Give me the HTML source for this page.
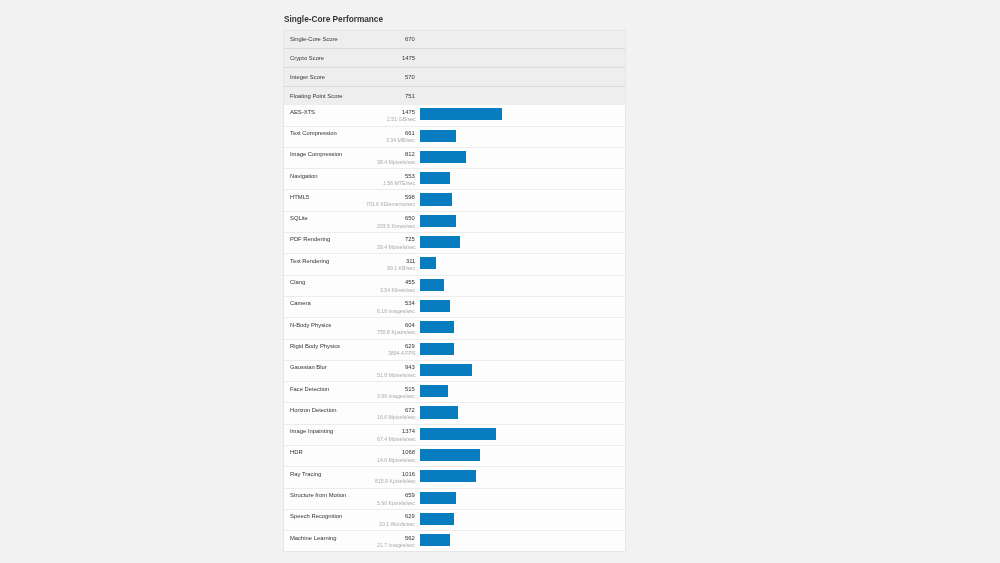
<!DOCTYPE html><html><head><meta charset="utf-8"><title>Single-Core Performance</title><style>
html,body{margin:0;padding:0;}
body{width:1000px;height:563px;background:#f2f2f2;font-family:"Liberation Sans",sans-serif;position:relative;overflow:hidden;}
div{position:absolute;}
.t{left:283.5px;top:15.5px;font-size:8.25px;font-weight:bold;color:#333;white-space:nowrap;line-height:1;will-change:transform;}
.tb{left:283px;top:30px;width:343px;height:521.8px;box-sizing:border-box;border:1px solid #e6e6e6;background:#fdfdfd;}
.sb{left:284px;width:341px;background:#eeeeee;}
.sd{left:284px;width:341px;height:1px;background:#d9d9d9;}
.wd{left:284px;width:341px;height:1px;background:#ececec;}
.l{left:290.2px;font-size:5.85px;color:#333;white-space:nowrap;line-height:1;will-change:transform;}
.v{right:584.8px;font-size:5.85px;color:#333;white-space:nowrap;line-height:1;text-align:right;will-change:transform;}
.d{right:584.8px;font-size:5.2px;color:#aaa;white-space:nowrap;line-height:1;text-align:right;will-change:transform;}
.b{left:420.2px;height:12.2px;background:#077dbf;}
</style></head><body>
<div class="t">Single-Core Performance</div>
<div class="tb"></div>
<div class="sb" style="top:31px;height:73.700px"></div>
<div class="sd" style="top:48px"></div>
<div class="sd" style="top:67px"></div>
<div class="sd" style="top:86px"></div>
<div class="l" style="top:37px">Single-Core Score</div>
<div class="v" style="top:37px">670</div>
<div class="l" style="top:56px">Crypto Score</div>
<div class="v" style="top:56px">1475</div>
<div class="l" style="top:75px">Integer Score</div>
<div class="v" style="top:75px">570</div>
<div class="l" style="top:94px">Floating Point Score</div>
<div class="v" style="top:94px">751</div>
<div class="l" style="top:109.600px">AES-XTS</div>
<div class="v" style="top:109.600px">1475</div>
<div class="d" style="top:117.100px">2.51 GB/sec</div>
<div class="b" style="top:108.200px;width:81.6px"></div>
<div class="wd" style="top:126px"></div>
<div class="l" style="top:130.900px">Text Compression</div>
<div class="v" style="top:130.900px">661</div>
<div class="d" style="top:138.400px">3.34 MB/sec</div>
<div class="b" style="top:129.500px;width:35.8px"></div>
<div class="wd" style="top:147px"></div>
<div class="l" style="top:152.200px">Image Compression</div>
<div class="v" style="top:152.200px">812</div>
<div class="d" style="top:159.700px">38.4 Mpixels/sec</div>
<div class="b" style="top:150.800px;width:45.9px"></div>
<div class="wd" style="top:168px"></div>
<div class="l" style="top:173.500px">Navigation</div>
<div class="v" style="top:173.500px">553</div>
<div class="d" style="top:181.000px">1.56 MTE/sec</div>
<div class="b" style="top:172.100px;width:29.9px"></div>
<div class="wd" style="top:189px"></div>
<div class="l" style="top:194.800px">HTML5</div>
<div class="v" style="top:194.800px">598</div>
<div class="d" style="top:202.300px">701.6 KElements/sec</div>
<div class="b" style="top:193.400px;width:31.8px"></div>
<div class="wd" style="top:211px"></div>
<div class="l" style="top:216.100px">SQLite</div>
<div class="v" style="top:216.100px">650</div>
<div class="d" style="top:223.600px">203.5 Krows/sec</div>
<div class="b" style="top:214.700px;width:35.7px"></div>
<div class="wd" style="top:232px"></div>
<div class="l" style="top:237.400px">PDF Rendering</div>
<div class="v" style="top:237.400px">725</div>
<div class="d" style="top:244.900px">39.4 Mpixels/sec</div>
<div class="b" style="top:236.000px;width:39.9px"></div>
<div class="wd" style="top:253px"></div>
<div class="l" style="top:258.700px">Text Rendering</div>
<div class="v" style="top:258.700px">311</div>
<div class="d" style="top:266.200px">99.1 KB/sec</div>
<div class="b" style="top:257.300px;width:16px"></div>
<div class="wd" style="top:275px"></div>
<div class="l" style="top:280.000px">Clang</div>
<div class="v" style="top:280.000px">455</div>
<div class="d" style="top:287.500px">3.54 Klines/sec</div>
<div class="b" style="top:278.600px;width:23.9px"></div>
<div class="wd" style="top:296px"></div>
<div class="l" style="top:301.300px">Camera</div>
<div class="v" style="top:301.300px">534</div>
<div class="d" style="top:308.800px">6.19 images/sec</div>
<div class="b" style="top:299.900px;width:29.8px"></div>
<div class="wd" style="top:317px"></div>
<div class="l" style="top:322.600px">N-Body Physics</div>
<div class="v" style="top:322.600px">604</div>
<div class="d" style="top:330.100px">755.8 Kpairs/sec</div>
<div class="b" style="top:321.200px;width:33.9px"></div>
<div class="wd" style="top:339px"></div>
<div class="l" style="top:343.900px">Rigid Body Physics</div>
<div class="v" style="top:343.900px">629</div>
<div class="d" style="top:351.400px">3894.4 FPS</div>
<div class="b" style="top:342.500px;width:33.9px"></div>
<div class="wd" style="top:360px"></div>
<div class="l" style="top:365.200px">Gaussian Blur</div>
<div class="v" style="top:365.200px">943</div>
<div class="d" style="top:372.700px">51.8 Mpixels/sec</div>
<div class="b" style="top:363.800px;width:51.7px"></div>
<div class="wd" style="top:381px"></div>
<div class="l" style="top:386.500px">Face Detection</div>
<div class="v" style="top:386.500px">515</div>
<div class="d" style="top:394.000px">3.96 images/sec</div>
<div class="b" style="top:385.100px;width:28px"></div>
<div class="wd" style="top:402px"></div>
<div class="l" style="top:407.800px">Horizon Detection</div>
<div class="v" style="top:407.800px">672</div>
<div class="d" style="top:415.300px">16.6 Mpixels/sec</div>
<div class="b" style="top:406.400px;width:37.9px"></div>
<div class="wd" style="top:424px"></div>
<div class="l" style="top:429.100px">Image Inpainting</div>
<div class="v" style="top:429.100px">1374</div>
<div class="d" style="top:436.600px">67.4 Mpixels/sec</div>
<div class="b" style="top:427.700px;width:75.7px"></div>
<div class="wd" style="top:445px"></div>
<div class="l" style="top:450.400px">HDR</div>
<div class="v" style="top:450.400px">1068</div>
<div class="d" style="top:457.900px">14.6 Mpixels/sec</div>
<div class="b" style="top:449.000px;width:59.5px"></div>
<div class="wd" style="top:466px"></div>
<div class="l" style="top:471.700px">Ray Tracing</div>
<div class="v" style="top:471.700px">1016</div>
<div class="d" style="top:479.200px">815.9 Kpixels/sec</div>
<div class="b" style="top:470.300px;width:55.7px"></div>
<div class="wd" style="top:488px"></div>
<div class="l" style="top:493.000px">Structure from Motion</div>
<div class="v" style="top:493.000px">659</div>
<div class="d" style="top:500.500px">5.90 Kpixels/sec</div>
<div class="b" style="top:491.600px;width:35.8px"></div>
<div class="wd" style="top:509px"></div>
<div class="l" style="top:514.300px">Speech Recognition</div>
<div class="v" style="top:514.300px">629</div>
<div class="d" style="top:521.800px">20.1 Words/sec</div>
<div class="b" style="top:512.900px;width:33.9px"></div>
<div class="wd" style="top:530px"></div>
<div class="l" style="top:535.600px">Machine Learning</div>
<div class="v" style="top:535.600px">562</div>
<div class="d" style="top:543.100px">21.7 images/sec</div>
<div class="b" style="top:534.200px;width:29.8px"></div>
</body></html>
